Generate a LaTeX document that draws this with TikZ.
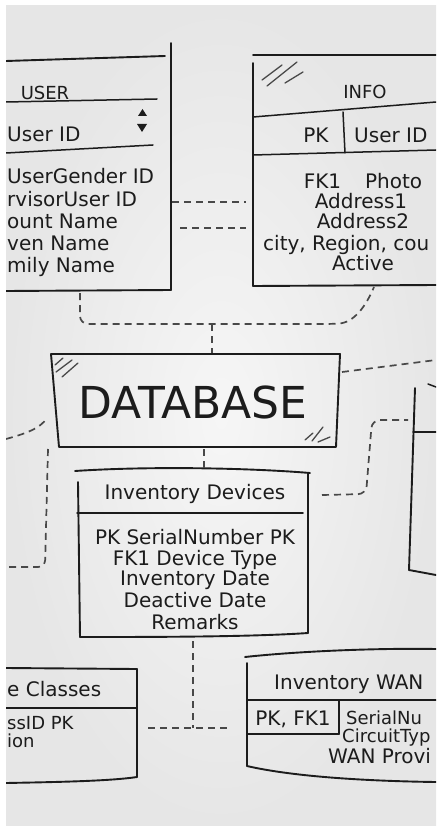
\documentclass[tikz,border=0pt]{standalone}
\usepackage{fontspec}
\setmainfont{DejaVu Sans}
\definecolor{ink}{HTML}{1C1C1C}
\definecolor{dashgray}{HTML}{484848}
\definecolor{bglight}{HTML}{F6F6F6}
\definecolor{bgdark}{HTML}{E6E6E6}
\begin{document}
\begin{tikzpicture}[x=1pt,y=-1pt,
  box/.style={line width=1.9pt, draw=ink, line cap=round, line join=round},
  sep/.style={line width=1.5pt, draw=ink, line cap=round},
  hatch/.style={line width=1.3pt, draw=ink!80, line cap=round},
  conn/.style={line width=1.7pt, draw=dashgray, dash pattern=on 7pt off 5pt},
  lbl/.style={inner sep=0pt, text=ink, font=\fontsize{20}{24}\selectfont},
  sml/.style={inner sep=0pt, text=ink, font=\fontsize{18}{22}\selectfont},
  ttl/.style={inner sep=0pt, text=ink, font=\fontsize{18}{22}\selectfont},
  big/.style={inner sep=0pt, text=ink, font=\fontsize{44}{50}\selectfont}]
\useasboundingbox (0,0) rectangle (436,826);
\fill[white] (0,0) rectangle (436,826);
\shade[inner color=bglight, outer color=bgdark] (6,6) rectangle (436,826);
\begin{scope}
\clip (6,6) rectangle (436,826);

% ---------------- USER box ----------------
\draw[box] (6,61) -- (165,56);
\draw[box] (171,43) -- (171,290);
\draw[box] (6,291) -- (171,290);
\draw[sep] (6,102) -- (157,99);
\draw[sep] (6,153) -- (153,145);
\node[ttl, anchor=base] (usertitle) at (45,99.5) {USER};
\node[lbl, anchor=base west] (userid) at (7,142) {User ID};
\fill[ink] (138,116) -- (142.5,109) -- (147,116) -- cycle;
\fill[ink] (137,124) -- (147,124) -- (142,132) -- cycle;
\node[lbl, anchor=base west] (u1) at (7,184) {UserGender ID};
\node[lbl, anchor=base west] (u2) at (7,207) {rvisorUser ID};
\node[lbl, anchor=base west] (u3) at (7,229) {ount Name};
\node[lbl, anchor=base west] (u4) at (7,250) {ven Name};
\node[lbl, anchor=base west] (u5) at (7,272) {mily Name};

% ---------------- INFO box ----------------
\draw[box] (253,55) -- (436,55);
\draw[box] (253,63) -- (253,286);
\draw[box] (253,286) -- (436,285);
\draw[hatch] (262,80) -- (282,65);
\draw[hatch] (267,86) -- (297,62);
\draw[hatch] (285,83) -- (303,72);
\draw[sep] (253,117) -- (436,102);
\draw[sep] (343,112) -- (345,153);
\draw[sep] (253,155) -- (436,150);
\node[ttl, anchor=base] (infotitle) at (365,98.5) {INFO};
\node[lbl, anchor=base] (infopk) at (316,143) {PK};
\node[lbl, anchor=base west] (infouid) at (354,143) {User ID};
\node[lbl, anchor=base] (i1) at (363,189) {FK1\hspace{24pt}Photo};
\node[lbl, anchor=base] (i2) at (361,209) {Address1};
\node[lbl, anchor=base] (i3) at (363,229) {Address2};
\node[lbl, anchor=base west] (i4) at (263,250) {city, Region, cou};
\node[lbl, anchor=base] (i5) at (363,270) {Active};

% ---------------- DATABASE box ----------------
\draw[box] (51,354) -- (340,354) -- (336,447) -- (59,447) -- cycle;
\draw[hatch] (55,365) -- (63,358);
\draw[hatch] (56,372) -- (72,360);
\draw[hatch] (62,377) -- (78,363);
\draw[hatch] (305,440) -- (313,433);
\draw[hatch] (312,441) -- (323,427);
\draw[hatch] (318,442) -- (330,437);
\node[big, anchor=base] (db) at (193,418) {DATABASE};

% ---------------- Inventory Devices box ----------------
\draw[box] (75,471) .. controls (150,466) and (250,468) .. (310,473);
\draw[box] (78,482) -- (80,637);
\draw[box] (308,473) -- (308,633);
\draw[box] (80,637) .. controls (150,637) and (250,637) .. (308,633);
\draw[sep] (77,513) -- (303,513);
\node[lbl, anchor=base] (invtitle) at (195,499) {Inventory Devices};
\node[lbl, anchor=base] (d1) at (195,544) {PK SerialNumber PK};
\node[lbl, anchor=base] (d2) at (195,565) {FK1 Device Type};
\node[lbl, anchor=base] (d3) at (195,585) {Inventory Date};
\node[lbl, anchor=base] (d4) at (195,607) {Deactive Date};
\node[lbl, anchor=base] (d5) at (195,629) {Remarks};

% ---------------- right partial box ----------------
\draw[box] (415,388) -- (409,570);
\draw[sep] (413,432) -- (436,432);
\draw[box] (409,570) -- (436,575);
\draw[sep] (428,384) -- (436,387);

% ---------------- Device Classes (partial) ----------------
\draw[box] (6,668) -- (137,669);
\draw[box] (137,669) -- (137,777);
\draw[box] (6,783) .. controls (60,782) and (110,781) .. (137,777);
\draw[sep] (6,708) -- (137,708);
\node[lbl, anchor=base west] (dctitle) at (7,696) {e Classes};
\node[sml, anchor=base west] (dc1) at (7,729) {ssID PK};
\node[sml, anchor=base west] (dc2) at (7,747) {ion};

% ---------------- Inventory WAN box ----------------
\draw[box] (245,657) .. controls (300,651) and (380,648) .. (436,649);
\draw[box] (247,663) -- (247,766);
\draw[box] (247,766) .. controls (290,776) and (360,781) .. (436,782);
\draw[sep] (247,700) -- (436,700);
\draw[sep] (339,700) -- (339,734);
\draw[sep] (247,734) -- (339,734);
\node[lbl, anchor=base west] (wantitle) at (274,689) {Inventory WAN};
\node[lbl, anchor=base] (wanpk) at (293,725) {PK, FK1};
\node[sml, anchor=base west] (w1) at (346,724) {SerialNu};
\node[sml, anchor=base west] (w2) at (342,742) {CircuitTyp};
\node[lbl, anchor=base west] (w3) at (328,763) {WAN Provi};

% ---------------- connectors ----------------
\coordinate (userR1) at (172,202);
\coordinate (infoL1) at (246,202);
\coordinate (userR2) at (180,228);
\coordinate (infoL2) at (246,228);
\draw[conn] (userR1) -- (infoL1);
\draw[conn] (userR2) -- (infoL2);

\coordinate (userB) at (80,293);
\coordinate (infoB) at (374,287);
\coordinate (joinT) at (212,324);
\coordinate (dbT) at (212,353);
\draw[conn, rounded corners=8pt] (userB) -- (80,324) -- (330,324) .. controls (354,323) and (366,306) .. (infoB);
\draw[conn] (joinT) -- (dbT);

\coordinate (dbR) at (342,372);
\coordinate (edgeR) at (436,360);
\draw[conn] (dbR) -- (edgeR);

\coordinate (dbB) at (204,449);
\coordinate (invT) at (204,469);
\draw[conn] (dbB) -- (invT);

\coordinate (edgeL1) at (6,439);
\coordinate (dbL) at (47,418);
\draw[conn] (edgeL1) .. controls (24,434) and (40,429) .. (dbL);

\coordinate (dbBL) at (48,449);
\coordinate (edgeL2) at (6,567);
\draw[conn, rounded corners=7pt] (dbBL) -- (45,567) -- (edgeL2);

\coordinate (invR) at (322,495);
\coordinate (rboxL) at (408,420);
\draw[conn, rounded corners=8pt] (invR) -- (366,494) -- (372,420) -- (rboxL);

\coordinate (invB) at (193,641);
\coordinate (joinB) at (193,728);
\coordinate (dcR) at (148,728);
\coordinate (wanL) at (228,728);
\draw[conn] (invB) -- (joinB);
\draw[conn] (dcR) -- (wanL);
\end{scope}
\end{tikzpicture}
\end{document}
